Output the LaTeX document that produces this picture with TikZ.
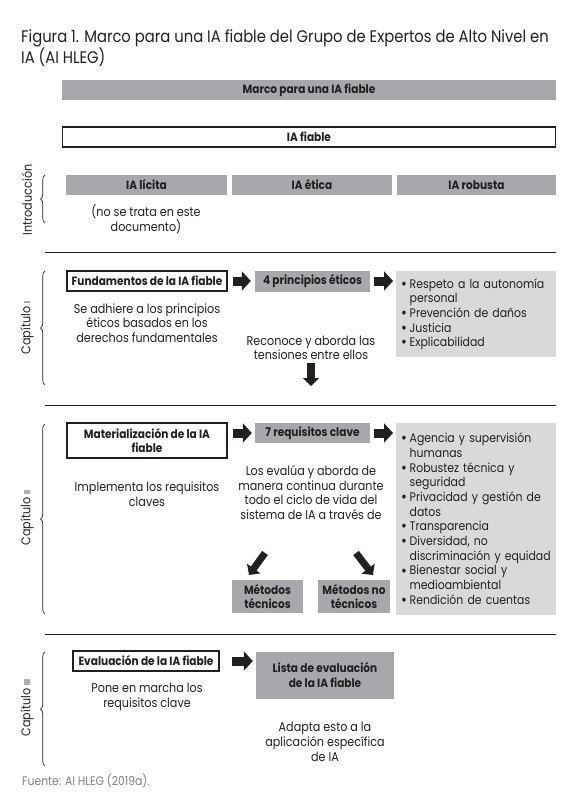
\documentclass[tikz,border=0pt]{standalone}
\usepackage{fontspec}
\setmainfont[FakeStretch=0.88]{Poppins}
\usetikzlibrary{arrows.meta,decorations.pathreplacing}
\definecolor{dgray}{HTML}{A7A8AB}
\definecolor{lgray}{HTML}{D9D9DA}
\definecolor{ink}{HTML}{231F20}
\definecolor{srcgray}{HTML}{7F7F7F}
\newcommand\fbody{\fontsize{12.7}{14.7}\selectfont}
\newcommand\flist{\fontsize{12.4}{14.7}\selectfont}
\newcommand\fbold{\fontsize{12}{14.7}\selectfont\bfseries}
\newcommand\bi{\makebox[8.5pt][l]{\raisebox{-1.1pt}{\scalebox{1.3}{\textbullet}}}}
\newcommand\ci{\hspace*{8.5pt}}
\tikzset{
  darkbox/.style={fill=dgray, draw=none, inner sep=0pt, align=center, font=\fbold, text=ink},
  outlinebox/.style={fill=white, draw=ink, line width=1.2pt, inner sep=0pt, align=center, font=\fbold, text=ink},
  listbox/.style={fill=lgray, draw=none, anchor=north west, inner xsep=5pt, inner ysep=0pt, text width=150pt, align=left, font=\flist, text=ink},
  plaintext/.style={inner sep=0pt, align=center, font=\fbody, text=ink},
  chaplabel/.style={rotate=90, inner sep=0pt, font=\fbody, text=ink},
  chapbrace/.style={draw=ink, line width=0.7pt, decorate, decoration={brace, amplitude=4.5pt}},
  sepline/.style={draw=ink, line width=0.9pt},
  blockarrow/.style={draw=ink, line width=9pt, -{Triangle[length=9pt,width=19pt]}},
  smallarrow/.style={draw=ink, line width=7pt, -{Triangle[length=8pt,width=16pt]}},
}
\begin{document}
\begin{tikzpicture}[x=1pt,y=-1pt]
\useasboundingbox[fill=white] (0,0) rectangle (584,806);

% title
\node[anchor=north west, inner sep=0pt, align=left, font=\fontsize{16.8}{14.8}\selectfont, text=ink] (title) at (21,29.5)
  {Figura 1. Marco para una IA fiable del Grupo de Expertos de Alto Nivel en\\IA (AI HLEG)};

% header bars
\node[darkbox, minimum width=494pt, minimum height=20pt] (marco) at (309,90) {Marco para una IA fiable};
\node[outlinebox, minimum width=493pt, minimum height=20pt] (fiable) at (309,137) {IA fiable};

% introduction
\node[darkbox, minimum width=161pt, minimum height=20pt] (licita) at (146.5,185) {IA lícita};
\node[darkbox, minimum width=160pt, minimum height=20pt] (etica) at (312,185) {IA ética};
\node[darkbox, minimum width=159pt, minimum height=20pt] (robusta) at (476.5,185) {IA robusta};
\node[plaintext] (nose) at (146,219) {(no se trata en este\\documento)};
\node[chaplabel] (lintro) at (27,200) {Introducción};
\draw[chapbrace] (45,223) -- (45,175);
\draw[sepline] (45,252) -- (556,252);

% chapter I
\node[chaplabel] (lcap1) at (27,328) {Capítulo {\fontsize{9}{9}\selectfont I}};
\draw[chapbrace] (45,385) -- (45,271);
\node[outlinebox, minimum width=160pt, minimum height=20pt] (fund) at (147,281) {Fundamentos de la IA fiable};
\node[darkbox, minimum width=115pt, minimum height=21pt] (princ) at (312.5,281) {4 principios éticos};
\node[listbox, minimum height=86pt] (bul1) at (396,271)
  {\bi Respeto a la autonomía\\\ci personal\\\bi Prevención de daños\\\bi Justicia\\\bi Explicabilidad};
\node[plaintext] (seadh) at (147,323) {Se adhiere a los principios\\éticos basados en los\\derechos fundamentales};
\node[plaintext] (reco) at (311,348) {Reconoce y aborda las\\tensiones entre ellos};
\coordinate (dn) at (311,386);
\draw[blockarrow, shorten <=5pt, shorten >=4pt] (fund.east) -- (princ.west);
\draw[blockarrow, shorten <=4pt, shorten >=3pt] (princ.east) -- (princ.east -| bul1.west);
\draw[smallarrow, line width=8pt] (reco.south) ++(0,3) -- (dn);
\draw[sepline] (45,405) -- (556,405);

% chapter II
\node[chaplabel] (lcap2) at (27,518) {Capítulo {\fontsize{9}{9}\selectfont II}};
\draw[chapbrace] (45,614) -- (45,424);
\node[outlinebox, minimum width=160pt, minimum height=35pt] (mat) at (147,440.5) {Materialización de la IA\\fiable};
\node[darkbox, minimum width=115pt, minimum height=20pt] (req) at (312.5,433) {7 requisitos clave};
\node[listbox, minimum height=192pt] (bul2) at (396,423)
  {\bi Agencia y supervisión\\\ci humanas\\\bi Robustez técnica y\\\ci seguridad\\\bi Privacidad y gestión de\\\ci datos\\\bi Transparencia\\\bi Diversidad, no\\\ci discriminación y equidad\\\bi Bienestar social y\\\ci medioambiental\\\bi Rendición de cuentas};
\node[plaintext] (impl) at (147,494) {Implementa los requisitos\\claves};
\node[plaintext] (evalua) at (311,492.5) {Los evalúa y aborda de\\manera continua durante\\todo el ciclo de vida del\\sistema de IA a través de};
\draw[blockarrow, shorten <=5pt, shorten >=3pt] (req.west -| mat.east) -- (req.west);
\draw[blockarrow, shorten <=4pt, shorten >=3pt] (req.east) -- (req.east -| bul2.west);
\node[darkbox, minimum width=71pt, minimum height=33pt] (met1) at (267.5,596.5) {Métodos\\técnicos};
\node[darkbox, minimum width=72pt, minimum height=33pt] (met2) at (354,596.5) {Métodos no\\técnicos};
\coordinate (da1) at (265,553);
\coordinate (da2) at (249,575);
\coordinate (db1) at (356,553);
\coordinate (db2) at (373,575);
\draw[smallarrow] (da1) -- (da2);
\draw[smallarrow] (db1) -- (db2);
\draw[sepline] (45,634) -- (556,634);

% chapter III
\node[chaplabel] (lcap3) at (27,708) {Capítulo {\fontsize{9}{9}\selectfont III}};
\draw[chapbrace] (45,766) -- (45,652);
\node[outlinebox, minimum width=146pt, minimum height=20pt] (evalia) at (146,661) {Evaluación de la IA fiable};
\node[darkbox, minimum width=138pt, minimum height=47pt] (lista) at (325,675) {Lista de evaluación\\de la IA fiable};
\draw[blockarrow, shorten <=12pt, shorten >=3pt] (evalia.east |- lista.west) ++(0,-14) -- (lista.west |- evalia.east);
\node[plaintext] (pone) at (147,697) {Pone en marcha los\\requisitos clave};
\node[plaintext] (adapta) at (325,742) {Adapta esto a la\\aplicación específica\\de IA};

% source
\node[anchor=west, inner sep=0pt, font=\fontsize{12.3}{12.3}\selectfont, text=srcgray] (fuente) at (22,781) {Fuente: AI HLEG (2019a).};
\end{tikzpicture}
\end{document}
